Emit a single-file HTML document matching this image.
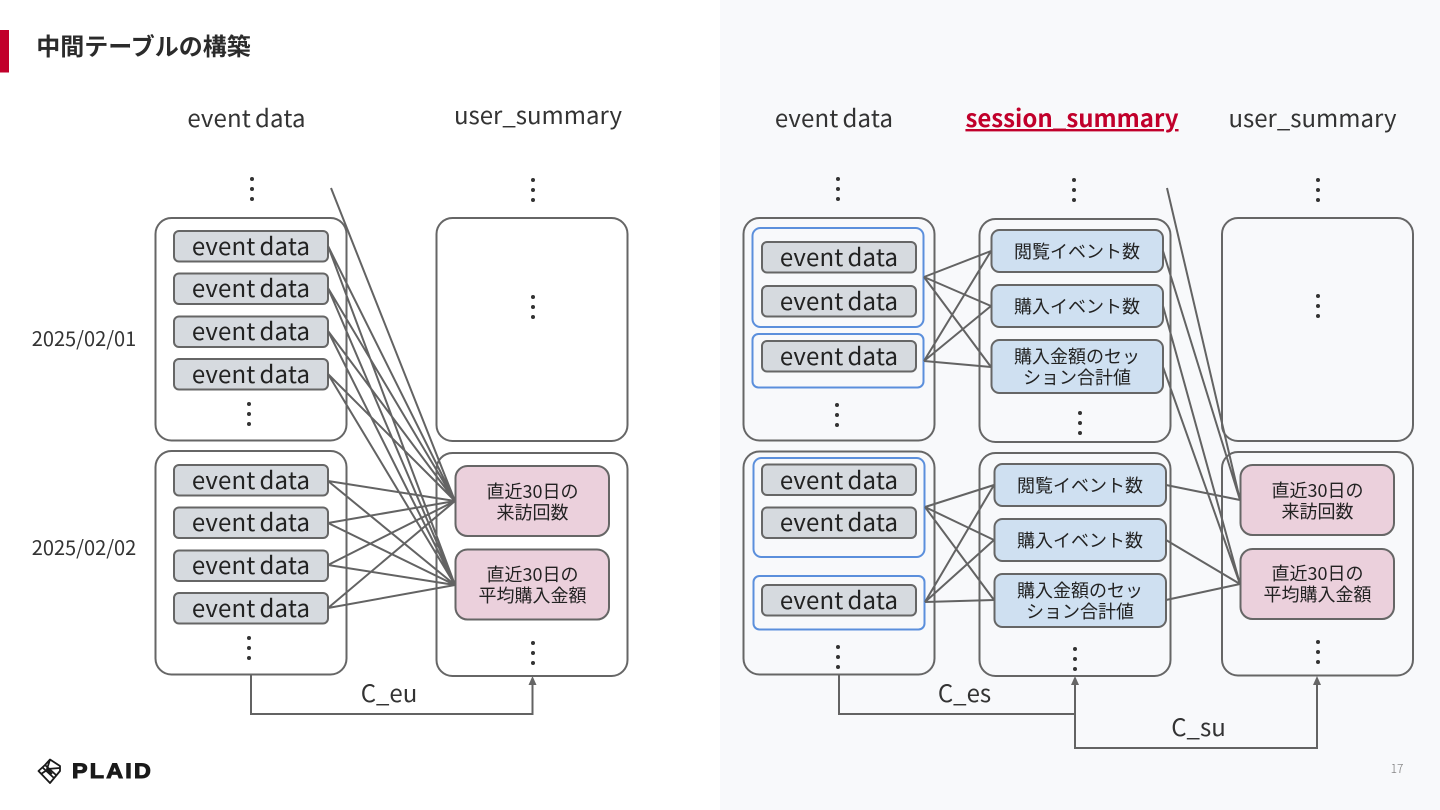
<!DOCTYPE html>
<html lang="ja"><head><meta charset="utf-8"><title>中間テーブルの構築</title>
<style>
html,body{margin:0;padding:0;background:#fff;width:1440px;height:810px;overflow:hidden}
svg{display:block}
text{font-family:"Noto Sans CJK JP","Liberation Sans",sans-serif;fill:#333;text-anchor:middle}
.o{fill:none;stroke:#666;stroke-width:2}
.e{fill:#d6dadf;stroke:#666;stroke-width:2}
.p{fill:#ebd0dc;stroke:#666;stroke-width:2}
.s{fill:#cfe0f1;stroke:#666;stroke-width:2}
.b{fill:none;stroke:#5b8fdc;stroke-width:2}
.l{stroke:#636363;stroke-width:2;fill:none}
.h{font-size:24px}
.ed{word-spacing:-1.6px;letter-spacing:.17px}
.d{font-size:24px;fill:#222;word-spacing:-1.6px;letter-spacing:.17px}
.t{font-size:18px;fill:#222}
.dot{fill:#333}
</style></head><body>
<svg width="1440" height="810" viewBox="0 0 1440 810" xmlns="http://www.w3.org/2000/svg">
<rect x="720" y="0" width="720" height="810" fill="#f8f9fb"/>
<rect x="0" y="30" width="9" height="42.500" fill="#c1002b"/>
<text x="143.500" y="55" style="font-size:24px;font-weight:700;fill:#2b2b2b">中間テーブルの構築</text>

<!-- headers -->
<text class="h ed" x="246.500" y="127">event data</text>
<text class="h" x="538" y="124">user_summary</text>
<text class="h ed" x="834" y="127">event data</text>
<text class="h" x="1072" y="127" style="fill:#c1002b;font-weight:700;text-decoration:underline">session_summary</text>
<text class="h" x="1312.500" y="127">user_summary</text>

<text x="84" y="346" style="font-size:20px">2025/02/01</text>
<text x="84" y="555" style="font-size:20px">2025/02/02</text>

<!-- left panel containers -->
<rect class="o" x="155.500" y="218" width="191" height="222.500" rx="16"/>
<rect class="o" x="155.500" y="451" width="191" height="223.500" rx="16"/>
<rect class="o" x="436.500" y="218" width="191" height="223" rx="16"/>
<rect class="o" x="436.500" y="453" width="191" height="223" rx="16"/>

<!-- left event boxes -->
<g>
<rect class="e" x="174" y="231" width="154" height="30.500" rx="5"/>
<rect class="e" x="174" y="273.500" width="154" height="30.500" rx="5"/>
<rect class="e" x="174" y="316.500" width="154" height="30.500" rx="5"/>
<rect class="e" x="174" y="359" width="154" height="30.500" rx="5"/>
<rect class="e" x="174" y="465" width="154" height="30.500" rx="5"/>
<rect class="e" x="174" y="507.500" width="154" height="30.500" rx="5"/>
<rect class="e" x="174" y="550.500" width="154" height="30.500" rx="5"/>
<rect class="e" x="174" y="593" width="154" height="30.500" rx="5"/>
</g>
<text class="d" x="251" y="255">event data</text>
<text class="d" x="251" y="297">event data</text>
<text class="d" x="251" y="340">event data</text>
<text class="d" x="251" y="383">event data</text>
<text class="d" x="251" y="489">event data</text>
<text class="d" x="251" y="531">event data</text>
<text class="d" x="251" y="574">event data</text>
<text class="d" x="251" y="617">event data</text>

<!-- left pink -->
<rect class="p" x="455.500" y="466" width="153.500" height="70" rx="12"/>
<rect class="p" x="455.500" y="549.500" width="153.500" height="70" rx="12"/>
<text class="t" x="532.500" y="498">直近30日の</text>
<text class="t" x="532.500" y="519">来訪回数</text>
<text class="t" x="532.500" y="581">直近30日の</text>
<text class="t" x="532.500" y="602">平均購入金額</text>

<!-- left connectors -->
<path class="l" d="M331 188L455 501
M328 246L455 501M328 246L455 585
M328 288L455 501M328 288L455 585
M328 331L455 501M328 331L455 585
M328 374L455 501M328 374L455 585
M328 481L455 501M328 481L455 585
M328 523L455 501M328 523L455 585
M328 565L455 501M328 565L455 585
M328 608L455 501M328 608L455 585"/>
<path class="l" d="M251 675V714H532.500V683"/>
<polygon points="532.500,676 528.500,685 536.500,685" fill="#666"/>
<text class="h" x="389" y="702">C_eu</text>

<!-- right panel containers -->
<rect class="o" x="743.500" y="218" width="191" height="222.500" rx="16"/>
<rect class="o" x="743.500" y="451.500" width="191" height="223" rx="16"/>
<rect class="o" x="979.500" y="219" width="191" height="223" rx="16"/>
<rect class="o" x="979.500" y="453" width="191" height="223" rx="16"/>
<rect class="o" x="1222" y="218" width="191" height="223" rx="16"/>
<rect class="o" x="1222" y="452" width="191" height="223.500" rx="16"/>

<!-- blue groups -->
<rect class="b" x="752.500" y="228" width="171" height="99" rx="8"/>
<rect class="b" x="752.500" y="334" width="171" height="53.500" rx="6"/>
<rect class="b" x="753.500" y="458" width="171" height="99" rx="8"/>
<rect class="b" x="753.500" y="576" width="171" height="53.500" rx="6"/>

<rect class="e" x="762" y="242" width="154" height="30.500" rx="5"/>
<rect class="e" x="762" y="286" width="154" height="30.500" rx="5"/>
<rect class="e" x="762" y="341" width="154" height="30.500" rx="5"/>
<rect class="e" x="762" y="464.500" width="154" height="30.500" rx="5"/>
<rect class="e" x="762" y="507.500" width="154" height="30.500" rx="5"/>
<rect class="e" x="762" y="585" width="154" height="30.500" rx="5"/>
<text class="d" x="839" y="266">event data</text>
<text class="d" x="839" y="310">event data</text>
<text class="d" x="839" y="365">event data</text>
<text class="d" x="839" y="489">event data</text>
<text class="d" x="839" y="531">event data</text>
<text class="d" x="839" y="609">event data</text>

<!-- blue summary -->
<rect class="s" x="991.500" y="230" width="171.500" height="42" rx="8"/>
<rect class="s" x="991.500" y="285" width="171.500" height="42" rx="8"/>
<rect class="s" x="991.500" y="340" width="171.500" height="53" rx="8"/>
<rect class="s" x="994.500" y="464" width="171.500" height="42" rx="8"/>
<rect class="s" x="994.500" y="519" width="171.500" height="42" rx="8"/>
<rect class="s" x="994.500" y="574" width="171.500" height="53" rx="8"/>
<text class="t" x="1077" y="258">閲覧イベント数</text>
<text class="t" x="1077" y="313">購入イベント数</text>
<text class="t" x="1077" y="363">購入金額のセッ</text>
<text class="t" x="1077" y="384">ション合計値</text>
<text class="t" x="1080" y="492">閲覧イベント数</text>
<text class="t" x="1080" y="547">購入イベント数</text>
<text class="t" x="1080" y="597">購入金額のセッ</text>
<text class="t" x="1080" y="618">ション合計値</text>

<!-- right pink -->
<rect class="p" x="1240.500" y="465" width="153.500" height="70" rx="12"/>
<rect class="p" x="1240.500" y="549" width="153.500" height="70" rx="12"/>
<text class="t" x="1317.500" y="497">直近30日の</text>
<text class="t" x="1317.500" y="518">来訪回数</text>
<text class="t" x="1317.500" y="580">直近30日の</text>
<text class="t" x="1317.500" y="601">平均購入金額</text>

<!-- right connectors -->
<path class="l" d="M924 277L991 251M924 277L991 306M924 277L991 367
M924 361L991 251M924 361L991 306M924 361L991 367
M925 507L994 485M925 507L994 540M925 507L994 600
M925 602L994 485M925 602L994 540M925 602L994 600"/>
<path class="l" d="M1167 188L1240 500M1163 251L1240 500M1163 306L1240 584M1163 367L1240 584
M1166 485L1240 500M1166 540L1240 584M1166 600L1240 584"/>
<path class="l" d="M839 675V714H1075V683"/>
<polygon points="1075,676 1071,685 1079,685" fill="#666"/>
<path class="l" d="M1075 714V748H1317V683"/>
<polygon points="1317,676 1313,685 1321,685" fill="#666"/>
<text class="h" x="964.500" y="702">C_es</text>
<text class="h" x="1198.500" y="736">C_su</text>

<!-- dots -->
<g class="dot">
<circle cx="252" cy="179" r="2"/><circle cx="252" cy="189" r="2"/><circle cx="252" cy="199" r="2"/>
<circle cx="533" cy="180" r="2"/><circle cx="533" cy="190" r="2"/><circle cx="533" cy="200" r="2"/>
<circle cx="533" cy="297" r="2"/><circle cx="533" cy="307" r="2"/><circle cx="533" cy="317" r="2"/>
<circle cx="249" cy="404" r="2"/><circle cx="249" cy="414" r="2"/><circle cx="249" cy="424" r="2"/>
<circle cx="249" cy="638" r="2"/><circle cx="249" cy="648" r="2"/><circle cx="249" cy="658" r="2"/>
<circle cx="533" cy="643" r="2"/><circle cx="533" cy="653" r="2"/><circle cx="533" cy="663" r="2"/>
<circle cx="838" cy="179" r="2"/><circle cx="838" cy="189" r="2"/><circle cx="838" cy="199" r="2"/>
<circle cx="1074" cy="180" r="2"/><circle cx="1074" cy="190" r="2"/><circle cx="1074" cy="200" r="2"/>
<circle cx="1318" cy="180" r="2"/><circle cx="1318" cy="190" r="2"/><circle cx="1318" cy="200" r="2"/>
<circle cx="837" cy="405" r="2"/><circle cx="837" cy="415" r="2"/><circle cx="837" cy="425" r="2"/>
<circle cx="1080" cy="413" r="2"/><circle cx="1080" cy="423" r="2"/><circle cx="1080" cy="433" r="2"/>
<circle cx="1318" cy="296" r="2"/><circle cx="1318" cy="306" r="2"/><circle cx="1318" cy="316" r="2"/>
<circle cx="838" cy="647" r="2"/><circle cx="838" cy="657" r="2"/><circle cx="838" cy="667" r="2"/>
<circle cx="1075" cy="649" r="2"/><circle cx="1075" cy="659" r="2"/><circle cx="1075" cy="669" r="2"/>
<circle cx="1318" cy="642" r="2"/><circle cx="1318" cy="652" r="2"/><circle cx="1318" cy="662" r="2"/>
</g>

<!-- logo -->
<g fill="none" stroke="#1a1a1a" stroke-width="1.800" stroke-linejoin="round">
<path d="M38.500 771L45 765L50 759.500L60 766L60 771L50 783Z"/>
<path d="M50 759.500L47 769L60 768M42 767L54 778M45 765L56 775M41 774L47 770M47 769L52 774"/>
</g>
<text x="112.500" y="778" textLength="81" lengthAdjust="spacingAndGlyphs" style="font-family:'Liberation Sans',sans-serif;font-size:21px;font-weight:700;letter-spacing:2px;fill:#1a1a1a;stroke:#1a1a1a;stroke-width:1">PLAID</text>
<text x="1397" y="773" style="font-size:12px;fill:#777;font-weight:300">17</text>
</svg>
</body></html>
